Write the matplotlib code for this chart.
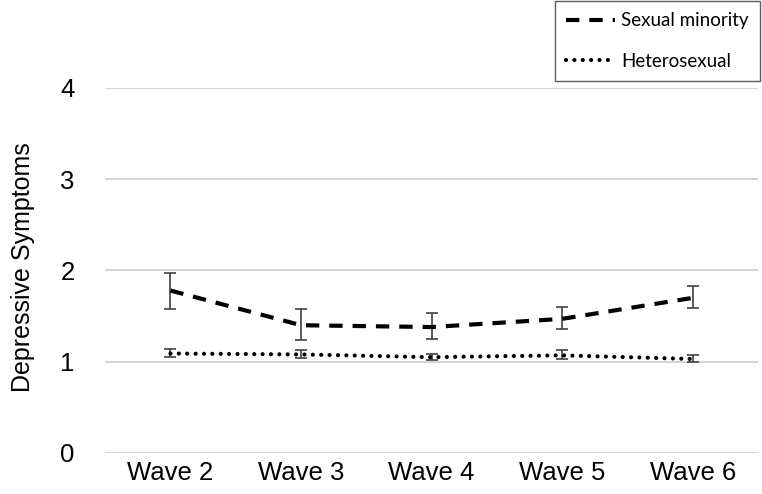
import matplotlib
matplotlib.use('Agg')
import matplotlib.pyplot as plt
import numpy as np

waves = ['Wave 2', 'Wave 3', 'Wave 4', 'Wave 5', 'Wave 6']

minority = [1.78, 1.40, 1.38, 1.47, 1.70]
minority_lo = [1.58, 1.24, 1.25, 1.36, 1.59]
minority_hi = [1.97, 1.58, 1.53, 1.60, 1.83]

hetero = [1.09, 1.08, 1.05, 1.07, 1.03]
hetero_lo = [1.05, 1.04, 1.02, 1.03, 1.00]
hetero_hi = [1.14, 1.13, 1.09, 1.13, 1.07]

plt.rcParams['font.family'] = ['Liberation Sans', 'DejaVu Sans']

fig = plt.figure(figsize=(7.62, 4.94), dpi=100)
ax = fig.add_axes([0.138, 0.083, 0.857, 0.739])

x = np.arange(len(waves))
err_col = '#404040'

def draw(vals, lo, hi, **kw):
    vals = np.array(vals)
    yerr = [vals - np.array(lo), np.array(hi) - vals]
    ax.errorbar(x, vals, yerr=yerr, fmt='none', ecolor=err_col, elinewidth=1.2,
                capsize=4, capthick=1.2, zorder=3)
    line, = ax.plot(x, vals, color='black', zorder=4, **kw)
    return line

l1 = draw(minority, minority_lo, minority_hi, lw=3, dashes=(3.2, 2.4),
          dash_capstyle='butt', label='Sexual minority')
l2 = draw(hetero, hetero_lo, hetero_hi, lw=3, dashes=(0.01, 2.0),
          dash_capstyle='round', label='Heterosexual')

ax.set_xlim(-0.5, 4.5)
ax.set_ylim(0, 4)
ax.set_yticks([0, 1, 2, 3, 4])
ax.set_xticks(x)
ax.set_xticklabels(waves)
ax.grid(axis='y', color='#d0d0d0', lw=1.3)
ax.set_axisbelow(True)
for s in ax.spines.values():
    s.set_visible(False)
ax.tick_params(length=0, labelsize=18.5)
ax.tick_params(axis='x', pad=6)
ax.tick_params(axis='y', pad=22)
ax.set_ylabel('Depressive Symptoms', fontsize=18)
ax.yaxis.set_label_coords(-0.108, 0.51)

leg = fig.legend(handles=[l1, l2], loc='upper right', bbox_to_anchor=(0.998, 1.0),
                 frameon=True, fancybox=False, edgecolor='#333333',
                 prop={'family': 'Lato', 'size': 13.5}, handlelength=2.6,
                 handletextpad=0.3, labelspacing=1.25, borderpad=0.6,
                 borderaxespad=0.05)
leg.get_frame().set_linewidth(1.0)

fig.savefig('out.png', dpi=100)
